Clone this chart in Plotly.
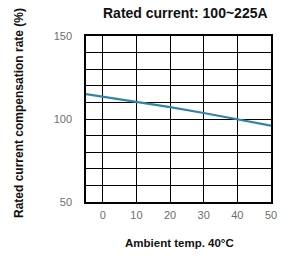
import plotly.graph_objects as go

temps = [-5, 0, 10, 20, 30, 40, 50]
rate = [115, 113.5, 110.4, 107.1, 103.6, 100, 96]
x_ticks = [0, 10, 20, 30, 40, 50]
y_ticks = [50, 100, 150]

fig = go.Figure()
fig.add_trace(go.Scatter(x=temps, y=rate, mode="lines",
                         line=dict(color="#3284a8", width=2.2), showlegend=False))

fig.update_layout(
    width=290, height=256,
    margin=dict(l=86, r=19, t=36, b=54),
    paper_bgcolor="white", plot_bgcolor="white",
    font=dict(family="Liberation Sans, Arial, sans-serif"),
)
fig.update_xaxes(range=[-5, 50], tickvals=x_ticks, showgrid=True, gridcolor="black", gridwidth=1.3,
                 showline=True, mirror=True, linecolor="black", linewidth=1.5, zeroline=False,
                 tickfont=dict(size=11, color="#6e6e6e"), ticklabelstandoff=2)
fig.update_yaxes(range=[50, 150], tickvals=y_ticks, showgrid=True, gridcolor="black", gridwidth=1.3,
                 minor=dict(dtick=10, showgrid=True, gridcolor="black", gridwidth=1.3),
                 showline=True, mirror=True, linecolor="black", linewidth=1.5, zeroline=False,
                 tickfont=dict(size=11, color="#6e6e6e"), ticklabelstandoff=10)

fig.add_annotation(text="<b>Rated current: 100~225A</b>", xref="paper", yref="paper",
                   x=0.536, y=1.0, yshift=23.5, xanchor="center", yanchor="middle",
                   showarrow=False, font=dict(size=14, color="#111"))
fig.add_annotation(text="<b>Ambient temp. 40°C</b>", xref="paper", yref="paper",
                   x=0.506, y=0, yshift=-41, xanchor="center", yanchor="middle",
                   showarrow=False, font=dict(size=11.5, color="#111"))
fig.add_annotation(text="<b>Rated current compensation rate (%)</b>", xref="paper", yref="paper",
                   x=0, xshift=-67, y=0.536, xanchor="center", yanchor="middle", textangle=-90,
                   showarrow=False, font=dict(size=12, color="#111"))

fig.write_html("out.html", config={"displayModeBar": False},
               post_script="document.body.style.margin='0';")
